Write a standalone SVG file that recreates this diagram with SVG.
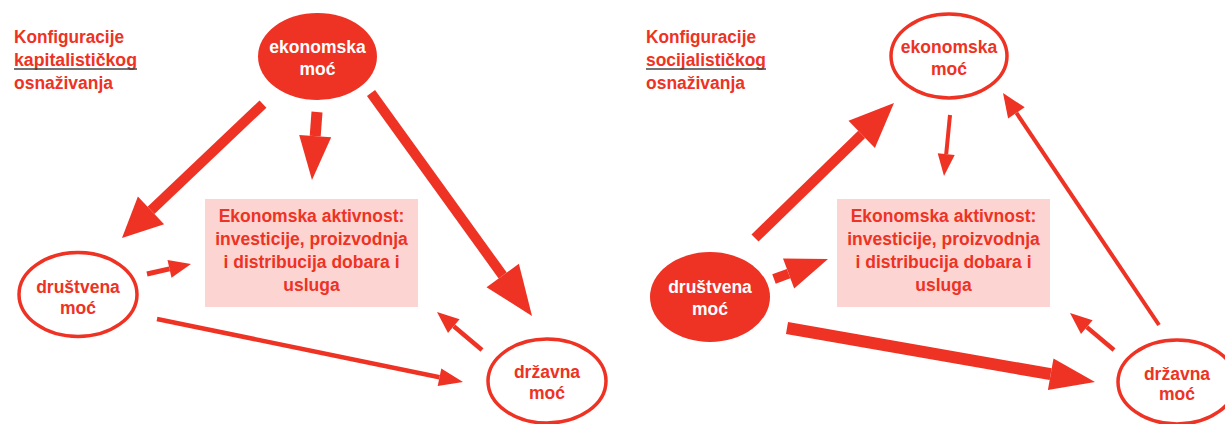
<svg xmlns="http://www.w3.org/2000/svg" width="1225" height="424" viewBox="0 0 1225 424">
<style>
text{font-family:"Liberation Sans",Arial,sans-serif;font-weight:bold;font-size:17.5px}
.t{fill:#ee3224;font-size:18px}
.c{text-anchor:middle}
.w{fill:#ffffff}
.r{fill:#ee3224}
.fill{fill:#ee3224;stroke:none}
.out{fill:#ffffff;stroke:#ee3224;stroke-width:3.5}
.box{fill:#fcd5d2}
.sh{stroke:#ee3224;fill:none;stroke-linecap:butt}
.hd{fill:#ee3224}
.ul{stroke:#444444;stroke-width:1.5}
</style>
<rect width="1225" height="424" fill="#ffffff"/>

<g id="title-left">
<text class="t" x="14" y="43" textLength="110" lengthAdjust="spacingAndGlyphs">Konfiguracije</text>
<text class="t" x="14" y="66" textLength="123" lengthAdjust="spacingAndGlyphs">kapitalističkog</text>
<line class="ul" x1="14" y1="69" x2="137" y2="69"/>
<text class="t" x="14" y="89" textLength="99" lengthAdjust="spacingAndGlyphs">osnaživanja</text>
</g>
<g id="title-right">
<text class="t" x="646" y="43" textLength="110" lengthAdjust="spacingAndGlyphs">Konfiguracije</text>
<text class="t" x="646" y="66" textLength="120" lengthAdjust="spacingAndGlyphs">socijalističkog</text>
<line class="ul" x1="646" y1="69" x2="766" y2="69"/>
<text class="t" x="646" y="89" textLength="99" lengthAdjust="spacingAndGlyphs">osnaživanja</text>
</g>

<g id="connectors">
<!-- left panel -->
<line class="sh" stroke-width="10" x1="263" y1="104" x2="151" y2="210.4"/>
<polygon class="hd" points="122,238 137.9,196.6 164.1,224.2"/>
<line class="sh" stroke-width="11" x1="317" y1="112" x2="315.2" y2="136.1"/>
<polygon class="hd" points="312,180 299.2,134.9 331.2,137.3"/>
<line class="sh" stroke-width="10" x1="371" y1="93" x2="502.7" y2="275.5"/>
<polygon class="hd" points="532,316 486.5,287.2 518.9,263.8"/>
<line class="sh" stroke-width="5" x1="147" y1="274" x2="169.5" y2="268.9"/>
<polygon class="hd" points="191,264 171.5,277.7 167.5,260.1"/>
<line class="sh" stroke-width="4.5" x1="157" y1="319" x2="439.5" y2="377.2"/>
<polygon class="hd" points="463,382 437.7,386 441.3,368.4"/>
<line class="sh" stroke-width="4.5" x1="482" y1="350" x2="453.8" y2="326.2"/>
<polygon class="hd" points="437,312 459.6,319.3 448,333.1"/>
<!-- right panel -->
<line class="sh" stroke-width="10" x1="755" y1="238" x2="861.7" y2="134.4"/>
<polygon class="hd" points="894,103 874.9,148 848.5,120.8"/>
<line class="sh" stroke-width="4" x1="950" y1="115" x2="946.2" y2="154.1"/>
<polygon class="hd" points="944,176 937.7,153.3 954.7,154.9"/>
<line class="sh" stroke-width="4" x1="1159" y1="325" x2="1016.4" y2="112.9"/>
<polygon class="hd" points="1003,93 1024.7,107.3 1008.1,118.5"/>
<line class="sh" stroke-width="10" x1="774" y1="279" x2="788.6" y2="273.6"/>
<polygon class="hd" points="828,259 794.2,288.6 783,258.6"/>
<line class="sh" stroke-width="12" x1="787" y1="328" x2="1050.7" y2="374.2"/>
<polygon class="hd" points="1095,382 1047.9,390 1053.5,358.4"/>
<line class="sh" stroke-width="4.5" x1="1114" y1="350" x2="1086.8" y2="327.1"/>
<polygon class="hd" points="1070,313 1092.6,320.2 1081,334"/>
</g>

<g id="eko-left">
<ellipse class="fill" cx="317.5" cy="56.5" rx="59.5" ry="43.5"/>
<text class="c w" x="317.5" y="53">ekonomska</text>
<text class="c w" x="317.5" y="75">moć</text>
</g>
<g id="box-left">
<rect class="box" x="205" y="199" width="213" height="108"/>
<text class="c r" x="311.5" y="222">Ekonomska aktivnost:</text>
<text class="c r" x="311.5" y="245">investicije, proizvodnja</text>
<text class="c r" x="311.5" y="268">i distribucija dobara i</text>
<text class="c r" x="311.5" y="291">usluga</text>
</g>
<g id="dru-left">
<ellipse class="out" cx="78" cy="294.5" rx="59" ry="42"/>
<text class="c r" x="78" y="293">društvena</text>
<text class="c r" x="78" y="314">moć</text>
</g>
<g id="drz-left">
<ellipse class="out" cx="547" cy="381" rx="59" ry="42"/>
<text class="c r" x="547" y="378">državna</text>
<text class="c r" x="547" y="399">moć</text>
</g>

<g id="eko-right">
<ellipse class="out" cx="949" cy="56" rx="58" ry="42"/>
<text class="c r" x="949" y="53">ekonomska</text>
<text class="c r" x="949" y="75">moć</text>
</g>
<g id="box-right">
<rect class="box" x="837" y="199" width="213" height="108"/>
<text class="c r" x="943.5" y="222">Ekonomska aktivnost:</text>
<text class="c r" x="943.5" y="245">investicije, proizvodnja</text>
<text class="c r" x="943.5" y="268">i distribucija dobara i</text>
<text class="c r" x="943.5" y="291">usluga</text>
</g>
<g id="dru-right">
<ellipse class="fill" cx="710" cy="297" rx="60" ry="45"/>
<text class="c w" x="710" y="293">društvena</text>
<text class="c w" x="710" y="315">moć</text>
</g>
<g id="drz-right">
<ellipse class="out" cx="1177" cy="382" rx="59" ry="42"/>
<text class="c r" x="1177" y="380">državna</text>
<text class="c r" x="1177" y="400">moć</text>
</g>
</svg>
